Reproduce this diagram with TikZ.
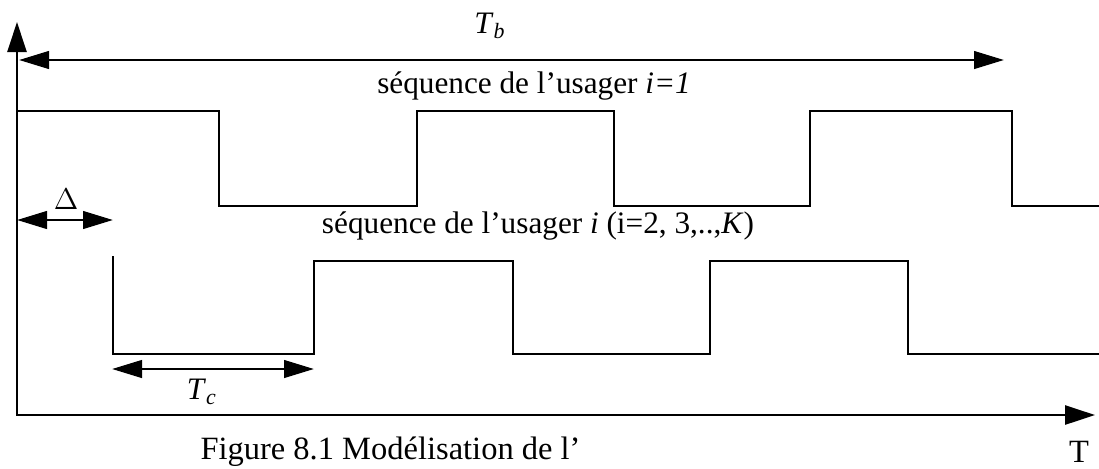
\documentclass[tikz,border=0pt]{standalone}
\usepackage{fontspec}
\setmainfont{Liberation Serif}
\usetikzlibrary{positioning,arrows.meta,calc}
\tikzset{
  axis/.style={line width=1.1pt, {Triangle[length=12pt,width=7.6pt]}-{Triangle[length=12pt,width=7.6pt]}},
  span/.style={line width=1.1pt, {Triangle[length=12pt,width=7pt]}-{Triangle[length=12pt,width=7pt]}},
  chips/.style={line width=1.1pt, line join=miter},
  lbl/.style={font=\fontsize{12.5}{15}\selectfont, inner sep=0pt},
  capt/.style={font=\fontsize{13}{15}\selectfont, inner sep=0pt},
}
\begin{document}
\begin{tikzpicture}[x=0.4pt, y=-0.4pt, node distance=4pt]
    \useasboundingbox (0,0) rectangle (1099,468);

    % axes
    \coordinate (O) at (17,415);
    \coordinate (ytop) at (17,22);
    \coordinate (xend) at (1095,415);
    \draw[axis] (ytop) -- (O) -- (xend);
    \node[capt, anchor=base] (tlab) at (1079,462) {T};

    % bit period
    \coordinate (tbL) at (19,60);
    \coordinate (tbR) at (1004,60);
    \draw[span] (tbL) -- (tbR);
    \node[lbl] (tb) at (490,26) {\textit{T}\textsubscript{\textit{b}}};

    % user 1
    \draw[chips] (17,111) -- (219,111) -- (219,206) -- (417,206) -- (417,111)
      -- (614,111) -- (614,206) -- (810,206) -- (810,111) -- (1012,111)
      -- (1012,206) -- (1099,206);
    \node[lbl, anchor=base] (seq1) at (534,93) {séquence de l'usager \textit{i=1}};

    % user i, delayed
    \draw[chips] (113,256) -- (113,354) -- (314,354) -- (314,261) -- (513,261)
      -- (513,354) -- (710,354) -- (710,261) -- (908,261) -- (908,354) -- (1099,354);
    \node[lbl, anchor=base] (seq2) at (538,233) {séquence de l'usager \textit{i} (i=2, 3,..,\textit{K})};

    % delay
    \coordinate (dL) at (17,220);
    \coordinate (dR) at (113,220);
    \draw[span] (dL) -- (dR);
    \node[lbl] (delta) at (66,199) {$\Delta$};

    % chip period
    \coordinate (cL) at (112,369);
    \coordinate (cR) at (314,369);
    \draw[span] (cL) -- (cR);
    \node[lbl] (tc) at (202,392) {\textit{T}\textsubscript{\textit{c}}};

    \node[capt, anchor=base west] (fig) at (200,459) {Figure 8.1 Modélisation de l'};
\end{tikzpicture}
\end{document}
